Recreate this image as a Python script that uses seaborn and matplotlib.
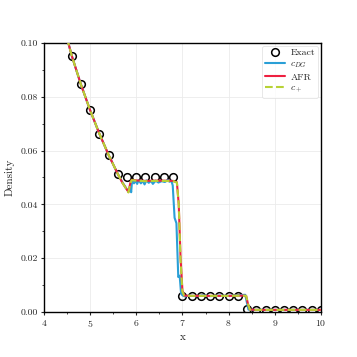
import numpy as np
import pandas as pd
import matplotlib
matplotlib.use("Agg")
import matplotlib.pyplot as plt
import seaborn as sns
from matplotlib.ticker import AutoMinorLocator, MultipleLocator

# exact solution samples
x_exact = [4.6, 4.8, 5.0, 5.2, 5.4, 5.6, 5.8, 6.0, 6.2, 6.4, 6.6, 6.8,
           7.0, 7.2, 7.4, 7.6, 7.8, 8.0, 8.2,
           8.4, 8.6, 8.8, 9.0, 9.2, 9.4, 9.6, 9.8, 10.0]
rho_exact = [0.0952, 0.0846, 0.0750, 0.0663, 0.0584, 0.0513, 0.0502, 0.0502, 0.0502, 0.0502, 0.0502, 0.0502,
             0.0060, 0.0060, 0.0060, 0.0060, 0.0060, 0.0060, 0.0060,
             0.0011, 0.0008, 0.0008, 0.0008, 0.0008, 0.0008, 0.0008, 0.0008, 0.0008]

# c_DG solution
x_dg = [4.50, 4.60, 4.80, 5.00, 5.20, 5.40, 5.60, 5.70, 5.80, 5.84, 5.87, 5.89, 5.91, 5.95,
        5.98, 6.02, 6.05, 6.10, 6.14, 6.18, 6.22, 6.27, 6.32, 6.36, 6.42, 6.48, 6.55,
        6.62, 6.68, 6.72, 6.76, 6.79, 6.83, 6.87, 6.91, 6.94, 6.97, 7.00, 7.05, 7.15,
        7.30, 7.45, 7.60, 7.80, 8.00, 8.15, 8.28, 8.36, 8.39, 8.43, 8.50, 9.00, 10.00]
rho_dg = [0.1018, 0.0954, 0.0846, 0.0750, 0.0663, 0.0584, 0.0513, 0.0482, 0.0455, 0.0448, 0.0462, 0.0445, 0.0490, 0.0478,
          0.0488, 0.0476, 0.0490, 0.0478, 0.0487, 0.0474, 0.0489, 0.0480, 0.0487, 0.0476, 0.0488, 0.0481, 0.0486,
          0.0483, 0.0490, 0.0484, 0.0488, 0.0470, 0.0350, 0.0330, 0.0130, 0.0135, 0.0070, 0.0062, 0.0058, 0.0061,
          0.0059, 0.0062, 0.0059, 0.0061, 0.0060, 0.0062, 0.0063, 0.0064, 0.0040, 0.0009, 0.0008, 0.0008, 0.0008]

# AFR solution
x_afr = [4.50, 4.60, 4.80, 5.00, 5.20, 5.40, 5.60, 5.70, 5.80, 5.83, 5.87, 5.90, 6.00, 6.20,
         6.40, 6.60, 6.80, 6.88, 6.92, 6.96, 7.00, 7.04, 7.20, 7.60, 8.00, 8.30, 8.38,
         8.42, 8.46, 8.60, 9.00, 10.00]
rho_afr = [0.1018, 0.0954, 0.0846, 0.0750, 0.0663, 0.0584, 0.0513, 0.0480, 0.0454, 0.0446, 0.0478, 0.0491, 0.0489, 0.0487,
           0.0488, 0.0488, 0.0487, 0.0482, 0.0400, 0.0200, 0.0080, 0.0061, 0.0060, 0.0060, 0.0060, 0.0061, 0.0060,
           0.0030, 0.0009, 0.0008, 0.0008, 0.0008]

# c_+ solution
x_cp = [4.50, 4.60, 4.80, 5.00, 5.20, 5.40, 5.60, 5.70, 5.80, 5.83, 5.87, 5.90, 6.00, 6.20,
        6.40, 6.60, 6.80, 6.88, 6.92, 6.96, 7.00, 7.04, 7.20, 7.60, 8.00, 8.30, 8.38,
        8.42, 8.46, 8.60, 9.00, 10.00]
rho_cp = [0.1018, 0.0954, 0.0846, 0.0750, 0.0663, 0.0584, 0.0513, 0.0480, 0.0453, 0.0444, 0.0476, 0.0490, 0.0488, 0.0486,
          0.0487, 0.0487, 0.0486, 0.0481, 0.0400, 0.0190, 0.0075, 0.0061, 0.0060, 0.0060, 0.0060, 0.0061, 0.0060,
          0.0030, 0.0009, 0.0008, 0.0008, 0.0008]

sns.set_style("white")
plt.rcParams["font.family"] = ["cmr10", "DejaVu Serif"]
plt.rcParams["mathtext.fontset"] = "cm"
plt.rcParams["axes.formatter.use_mathtext"] = True
plt.rcParams["font.size"] = 7

fig = plt.figure(figsize=(3.57, 3.57), dpi=100)
ax = fig.add_axes([0.123, 0.126, 0.776, 0.754])

ax.plot(x_exact, rho_exact, linestyle="none", marker="o", markersize=5.5,
        markerfacecolor="none", markeredgecolor="black", markeredgewidth=1.1,
        label="Exact", zorder=2)
sns.lineplot(x=x_dg, y=rho_dg, color="#2a9fd6", linewidth=1.5, label="$c_{DG}$",
             ax=ax, zorder=3, sort=False)
sns.lineplot(x=x_afr, y=rho_afr, color="#ee2040", linewidth=1.5, label="AFR",
             ax=ax, zorder=4, sort=False)
sns.lineplot(x=x_cp, y=rho_cp, color="#b8d235", linewidth=1.5, linestyle="--",
             label="$c_+$", ax=ax, zorder=5, sort=False)

ax.set_xlim(4, 10)
ax.set_ylim(0, 0.10)
ax.xaxis.set_major_locator(MultipleLocator(1))
ax.yaxis.set_major_locator(MultipleLocator(0.02))
ax.xaxis.set_minor_locator(AutoMinorLocator(2))
ax.yaxis.set_minor_locator(AutoMinorLocator(2))
ax.yaxis.set_major_formatter(matplotlib.ticker.FormatStrFormatter("%.2f"))
ax.tick_params(which="major", direction="out", length=2.5, width=0.8, pad=2,
               labelsize=7, bottom=True, left=True)
ax.tick_params(which="minor", direction="out", length=1.5, width=0.6, bottom=True, left=True)
ax.grid(True, which="major", color="#ebebeb", linewidth=0.6)
ax.set_axisbelow(True)
for s in ax.spines.values():
    s.set_color("black")
    s.set_linewidth(1.0)

ax.set_xlabel("x", fontsize=8, labelpad=2)
ax.set_ylabel("Density", fontsize=8, labelpad=4)

leg = ax.legend(loc="upper right", fontsize=7, frameon=True, fancybox=True,
                handlelength=2.0, borderpad=0.3, labelspacing=0.25,
                handletextpad=0.6, borderaxespad=0.3)
leg.get_frame().set_edgecolor("#dddddd")
leg.get_frame().set_linewidth(0.6)

fig.savefig("out.png", dpi=100)
